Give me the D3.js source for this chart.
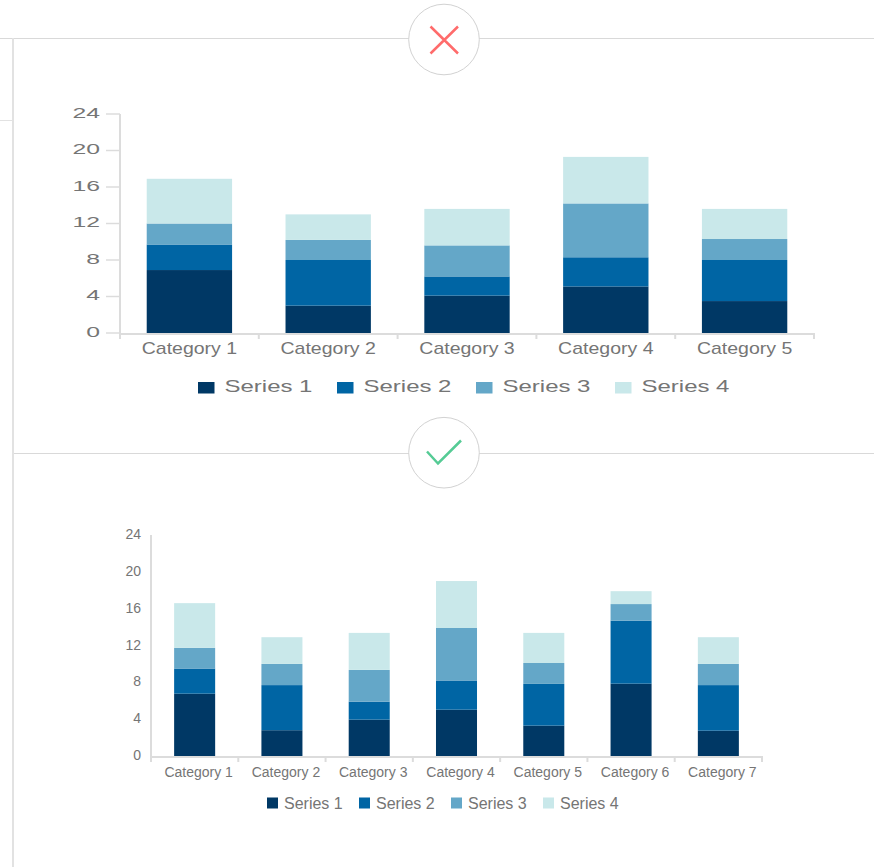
<!DOCTYPE html>
<html><head><meta charset="utf-8">
<style>html,body{margin:0;padding:0;background:#fff}svg{display:block}text{font-family:"Liberation Sans",Arial,sans-serif}</style>
<script src="https://cdn.jsdelivr.net/npm/d3@7"></script></head><body>
<svg id="c" width="874" height="867"></svg>
<script>
const seriesNames=["Series 1","Series 2","Series 3","Series 4"];
const colors=["#003865","#0065a4","#64a7c8","#c9e8ea"];
const yTicks=[0,4,8,12,16,20,24];
const topCategories=["Category 1","Category 2","Category 3","Category 4","Category 5"];
const topS1=[6.9,3,4.1,5.1,3.5];
const topS2=[2.8,5,2.1,3.2,4.5];
const topS3=[2.3,2.2,3.4,5.9,2.3];
const topS4=[4.9,2.8,4,5.1,3.3];
const botCategories=["Category 1","Category 2","Category 3","Category 4","Category 5","Category 6","Category 7"];
const botS1=[6.77,2.8,3.95,5.03,3.3,7.86,2.75];
const botS2=[2.73,4.9,1.95,3.17,4.53,6.84,4.95];
const botS3=[2.24,2.3,3.45,5.7,2.27,1.8,2.3];
const botS4=[4.86,2.9,4.02,5.1,3.27,1.4,2.9];

const svg=d3.select("#c");
const rule="#dcdcdc";
const deco=svg.append("g").attr("fill","none");
deco.append("path").attr("d","M0,38.5H874M13,453.5H874").attr("stroke","#d9d9d9").attr("stroke-width",1.2);
deco.append("path").attr("d","M13,38V867").attr("stroke","#e2e2e2").attr("stroke-width",2);
deco.append("path").attr("d","M0,120.5H12").attr("stroke","#e2e2e2").attr("stroke-width",1);
[[444,39.5],[444,452.7]].forEach(([x,y])=>deco.append("circle").attr("cx",x).attr("cy",y).attr("r",35.3).attr("fill","#fff").attr("stroke","#d2d2d2"));
svg.append("path").attr("d","M430.5,26.5L458,53.5M458,26.5L430.5,53.5").attr("stroke","#ff6b6b").attr("stroke-width",2.5).attr("fill","none");
svg.append("path").attr("d","M427,451.5L438,463.5L461,440.5").attr("stroke","#55cb95").attr("stroke-width",2.5).attr("fill","none");

function chart(o){
  const cats=o.categories, vals=o.series;
  const rows=cats.map((c,i)=>{const r={cat:c};seriesNames.forEach((s,k)=>r[s]=vals[k][i]);return r;});
  const stack=d3.stack().keys(seriesNames)(rows);
  const x=d3.scaleBand().domain(cats).range([o.x0,o.x1]).paddingInner(o.pad).paddingOuter(o.pad/2);
  const y=d3.scaleLinear().domain([0,24]).range([o.y0,o.y1]);
  const g=svg.append("g");
  g.selectAll("g.s").data(stack).join("g").attr("fill",(d,i)=>colors[i]).selectAll("rect").data(d=>d).join("rect")
    .attr("x",d=>x(d.data.cat)+o.barDx).attr("width",x.bandwidth())
    .attr("y",d=>y(d[1])).attr("height",d=>y(d[0])-y(d[1]));
  const stretch=(sel,cx,cy,sx)=>sel.attr("transform",`translate(${cx},${cy}) scale(${sx},1)`);
  // y axis
  const ya=g.append("g").attr("stroke",rule);
  ya.append("line").attr("x1",o.x0).attr("x2",o.x0).attr("y1",o.y1).attr("y2",o.y0+1+o.tickLen).attr("stroke-width",o.axisW);
  ya.selectAll("line.t").data(yTicks).join("line").attr("class","t").attr("x1",o.x0-o.yTick).attr("x2",o.x0).attr("y1",d=>y(d)).attr("y2",d=>y(d)).attr("stroke-width",1.5);
  g.selectAll("text.y").data(yTicks).join("text").attr("class","y").attr("text-anchor","end").attr("fill",o.textColor).attr("font-size",o.tickFs).attr("dy","0.36em")
    .text(d=>d).each(function(d){stretch(d3.select(this),o.x0-o.yLabelGap,y(d)+o.yLabelShift,o.ySx)});
  // x axis
  const step=x.step();
  g.append("line").attr("stroke",rule).attr("stroke-width",o.axisW).attr("x1",o.x0).attr("x2",o.x1+1).attr("y1",o.y0+1).attr("y2",o.y0+1);
  g.selectAll("line.b").data(d3.range(cats.length+1)).join("line").attr("class","b").attr("stroke",rule).attr("stroke-width",o.axisW)
    .attr("x1",i=>o.x0+i*step).attr("x2",i=>o.x0+i*step).attr("y1",o.y0+1).attr("y2",o.y0+1+o.tickLen);
  g.selectAll("text.x").data(cats).join("text").attr("class","x").attr("text-anchor","middle").attr("fill",o.textColor).attr("font-size",o.catFs)
    .text(d=>d).each(function(d){stretch(d3.select(this),x(d)+x.bandwidth()/2+o.catDx,o.catY,o.catSx)});
  // legend
  const lg=g.selectAll("g.l").data(seriesNames).join("g").attr("class","l");
  lg.append("rect").attr("x",(d,i)=>o.legX+i*o.legStep).attr("y",o.swY).attr("width",o.sw[0]).attr("height",o.sw[1]).attr("fill",(d,i)=>colors[i]);
  lg.append("text").attr("fill",o.textColor).attr("font-size",o.legFs).attr("dy","0.36em").text(d=>d)
    .each(function(d,i){stretch(d3.select(this),o.legX+i*o.legStep+o.legGap,o.legY,o.legSx)});
}
chart({categories:topCategories,series:[topS1,topS2,topS3,topS4],x0:120,x1:814,y0:333,y1:114,pad:0.385,barDx:0,
  axisW:2,tickLen:5,yTick:14,yLabelGap:20,yLabelShift:-1.5,textColor:"#757575",tickFs:15,ySx:1.65,catFs:16,catSx:1.22,catDx:0,catY:353.5,legFs:16,legSx:1.5,legX:198,legStep:139,legY:386,swY:382,sw:[16.5,11.5],legGap:26.5});
chart({categories:botCategories,series:[botS1,botS2,botS3,botS4],x0:151,x1:762,y0:756,y1:535,pad:0.53,barDx:0,
  axisW:2,tickLen:5,yTick:0,yLabelGap:10,yLabelShift:-1,textColor:"#757575",tickFs:14,ySx:1,catFs:14,catSx:1,catDx:4,catY:777,legFs:16,legSx:1,legX:267,legStep:92,legY:803,swY:797.5,sw:[11,11],legGap:17});
</script></body></html>
